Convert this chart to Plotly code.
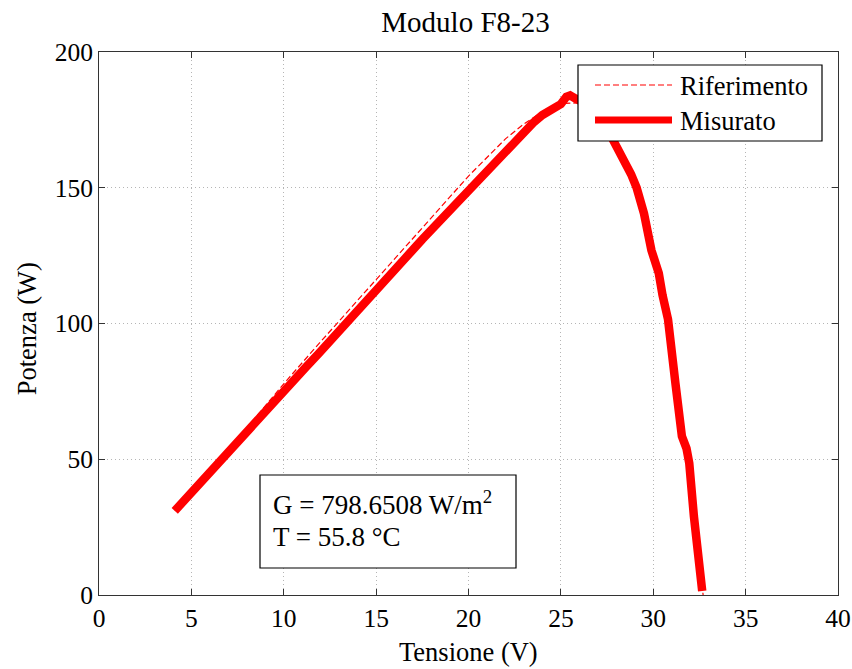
import plotly.graph_objects as go

# ---- data ----
v_mis = [4.1, 4.6, 5.2, 5.8, 6.5, 7.1, 7.8, 8.4, 9.1, 9.8, 10.5, 11.2, 11.9, 12.6,
         13.3, 14.0, 14.7, 15.4, 16.1, 16.8, 17.5, 18.2, 18.9, 19.6, 20.3, 21.0,
         21.7, 22.4, 23.0, 23.5, 24.0, 24.5, 25.0, 25.3, 25.5, 25.8, 26.2, 26.7,
         27.2, 27.6, 27.9, 28.3, 28.8, 29.1, 29.5, 29.9, 30.3, 30.5, 30.8, 31.2,
         31.55, 31.8, 31.95, 32.2, 32.45, 32.65]
p_mis = [31.0, 34.8, 39.3, 43.5, 48.9, 53.0, 58.6, 62.9, 68.4, 73.3, 78.6, 83.9,
         89.0, 94.4, 99.6, 104.8, 110.1, 115.3, 120.6, 125.7, 131.0, 136.1, 141.3,
         146.4, 151.2, 156.3, 161.2, 166.2, 170.6, 173.9, 176.8, 179.0, 180.8,
         183.5, 184.0, 182.8, 181.5, 179.0, 175.0, 170.5, 166.8, 161.5, 155.0,
         150.0, 140.5, 127.0, 118.5, 110.5, 101.5, 78.0, 58.5, 54.0, 48.5, 29.0,
         15.5, 1.5]

v_ref = [4.1, 6, 8, 10, 12, 14, 16, 18, 20, 22, 23, 24, 25, 26, 27, 28, 29, 30,
         31, 32, 32.7]
p_ref = [31.2, 45.6, 61.5, 77.8, 93.3, 108.6, 123.9, 139.3, 154.3, 168.0, 173.5,
         178.0, 181.0, 181.3, 177.0, 167.5, 151.5, 126.0, 90.0, 43.0, 0.0]

x_ticks = [0, 5, 10, 15, 20, 25, 30, 35, 40]
y_ticks = [0, 50, 100, 150, 200]

title_text = "Modulo F8-23"
x_label = "Tensione (V)"
y_label = "Potenza (W)"
info_line1 = "G = 798.6508 W/m<sup>2</sup>"
info_line2 = "T = 55.8 °C"
legend_names = ["Riferimento", "Misurato"]

FONT = "Liberation Serif, Times New Roman, serif"
RED = "#ff0000"
DASH = "6px,3px"

fig = go.Figure()
fig.add_trace(go.Scatter(x=v_ref, y=p_ref, mode="lines", name=legend_names[0],
                         line=dict(color=RED, width=1.2, dash=DASH)))
fig.add_trace(go.Scatter(x=v_mis, y=p_mis, mode="lines", name=legend_names[1],
                         line=dict(color=RED, width=8.5)))

axis_common = dict(showline=True, linecolor="#333333", linewidth=1, mirror="ticks",
                   ticks="inside", ticklen=6, tickcolor="#333333", automargin=False,
                   showgrid=True, gridcolor="#b5b5b5", griddash="1px,3px", gridwidth=1,
                   zeroline=False, tickfont=dict(family=FONT, size=25.5, color="black"))

fig.update_xaxes(range=[0, 40], tickvals=x_ticks, **axis_common)
fig.update_yaxes(range=[0, 200], tickvals=y_ticks, **axis_common)

# axis titles as annotations for exact placement
fig.add_annotation(xref="paper", yref="paper", x=0.5, y=-0.105, yanchor="middle",
                   text=x_label, showarrow=False,
                   font=dict(family=FONT, size=26.5, color="black"))
fig.add_annotation(xref="paper", yref="paper", x=-0.097, y=0.49, xanchor="center",
                   yanchor="middle", textangle=-90, text=y_label, showarrow=False,
                   font=dict(family=FONT, size=26.5, color="black"))

# info box
fig.add_shape(type="rect", xref="paper", yref="paper",
              x0=(260 - 99) / 739, x1=(516 - 99) / 739,
              y0=(595 - 568) / 543, y1=(595 - 475) / 543,
              line=dict(color="black", width=1.2), fillcolor="white", layer="above")
fig.add_annotation(xref="paper", yref="paper", x=(271 - 99) / 739, y=(595 - 503) / 543,
                   xanchor="left", yanchor="middle", text=info_line1, showarrow=False,
                   font=dict(family=FONT, size=27, color="black"))
fig.add_annotation(xref="paper", yref="paper", x=(271 - 99) / 739, y=(595 - 537) / 543,
                   xanchor="left", yanchor="middle", text=info_line2, showarrow=False,
                   font=dict(family=FONT, size=27, color="black"))

# legend (drawn manually to match the box geometry)
fig.add_shape(type="rect", xref="paper", yref="paper",
              x0=(578 - 99) / 739, x1=(822 - 99) / 739,
              y0=(595 - 141) / 543, y1=(595 - 65) / 543,
              line=dict(color="black", width=1.2), fillcolor="white", layer="above")
fig.add_shape(type="line", xref="paper", yref="paper",
              x0=(595 - 99) / 739, x1=(672 - 99) / 739,
              y0=(595 - 85) / 543, y1=(595 - 85) / 543,
              line=dict(color=RED, width=1.2, dash=DASH), layer="above")
fig.add_shape(type="line", xref="paper", yref="paper",
              x0=(595 - 99) / 739, x1=(672 - 99) / 739,
              y0=(595 - 120) / 543, y1=(595 - 120) / 543,
              line=dict(color=RED, width=7), layer="above")
fig.add_annotation(xref="paper", yref="paper", x=(678 - 99) / 739, y=(595 - 86) / 543,
                   xanchor="left", yanchor="middle", text=legend_names[0], showarrow=False,
                   font=dict(family=FONT, size=26.5, color="black"))
fig.add_annotation(xref="paper", yref="paper", x=(678 - 99) / 739, y=(595 - 121) / 543,
                   xanchor="left", yanchor="middle", text=legend_names[1], showarrow=False,
                   font=dict(family=FONT, size=26.5, color="black"))

fig.update_layout(
    width=852, height=669,
    margin=dict(l=99, r=14, t=52, b=74),
    paper_bgcolor="white", plot_bgcolor="white",
    title=dict(text=title_text, x=0.5464, xanchor="center", y=0.968, yanchor="middle",
               font=dict(family=FONT, size=29, color="black")),
    showlegend=False,
)

fig.write_html("out.html")
